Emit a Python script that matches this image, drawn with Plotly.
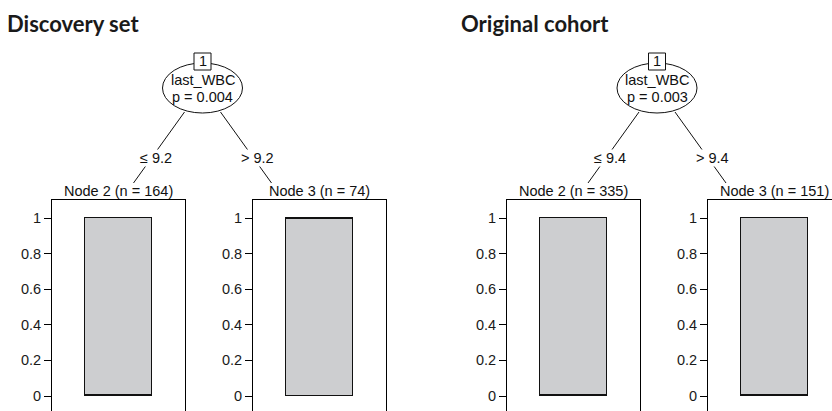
import plotly.graph_objects as go

W, H = 832, 411

# ---------------- data ----------------
panel_titles = ["Discovery set", "Original cohort"]
split_variable = "last_WBC"
p_values = ["0.004", "0.003"]
thresholds = ["9.2", "9.4"]
node2_n = [164, 335]
node3_n = [74, 151]
# class proportions per terminal node (node 2, node 3)
dark_low = [[0.006, 0.0], [0.004, 0.004]]
dark_high = [[0.0, 0.006], [0.0, 0.0]]
tick_vals = [0, 0.2, 0.4, 0.6, 0.8, 1]
tick_text = ["0", "0.2", "0.4", "0.6", "0.8", "1"]

# ---------------- layout constants (pixels) ----------------
root_x = [202.5, 657.0]
title_x = [5, 459]
box_left = [[52, 253], [507, 708]]
box_w = 133
px_per_unit = 178.0
y_one_px, y_zero_px, box_top_px = 218, 396, 200

def px(x):
    return x / W

def py(y):
    return 1 - y / H

FONT = "Liberation Sans, Arial, sans-serif"
FS = 14.5
LIGHT = "#cdced0"
DARK = "#222222"
INK = "#111111"

fig = go.Figure()
layout = dict(
    width=W, height=H, margin=dict(l=0, r=0, t=0, b=0),
    paper_bgcolor="white", plot_bgcolor="white", showlegend=False,
    barmode="stack", bargap=0,
)
shapes, annotations = [], []

ax = 0
for p in range(2):
    for k in range(2):
        ax += 1
        sfx = "" if ax == 1 else str(ax)
        left = box_left[p][k]
        right = min(left + box_w, W)
        xr = (right - left) / box_w
        layout["xaxis" + sfx] = dict(
            domain=[px(left), px(right)], range=[0, xr], anchor="y" + sfx,
            side="top", showline=True, linecolor="black", linewidth=1,
            ticks="", showticklabels=False, showgrid=False, zeroline=False,
            fixedrange=True,
        )
        lo = -(H - y_zero_px) / px_per_unit
        hi = 1 + (y_one_px - box_top_px) / px_per_unit
        layout["yaxis" + sfx] = dict(
            domain=[0, py(box_top_px)], range=[lo, hi], anchor="x" + sfx,
            showline=True, linecolor="black", linewidth=1,
            mirror=(right < W), ticks="outside", ticklen=7, tickcolor="black",
            tickvals=tick_vals, ticktext=tick_text,
            tickfont=dict(family=FONT, size=FS, color="#1a1a1a"),
            showgrid=False, zeroline=False, fixedrange=True,
        )
        lo_v = dark_low[p][k]
        hi_v = dark_high[p][k]
        mid_v = 1 - lo_v - hi_v
        for val, col in [(lo_v, DARK), (mid_v, LIGHT), (hi_v, DARK)]:
            fig.add_trace(go.Bar(
                x=[0.5], y=[val], width=[0.51], xaxis="x" + sfx, yaxis="y" + sfx,
                marker=dict(color=col, line=dict(color=INK, width=1.3)),
                hoverinfo="skip",
            ))
        n = node2_n[p] if k == 0 else node3_n[p]
        annotations.append(dict(
            x=px(left + box_w / 2), y=py(191), xref="paper", yref="paper",
            text=f"Node {k + 2} (n = {n})", showarrow=False,
            font=dict(family=FONT, size=FS, color=INK),
            xanchor="center", yanchor="middle",
        ))

    rx = root_x[p]
    # title
    annotations.append(dict(
        x=px(title_x[p]), y=py(23), xref="paper", yref="paper",
        text=f"<b>{panel_titles[p]}</b>", showarrow=False,
        font=dict(family="Lato, sans-serif", size=22, color="#1a1a1a"),
        xanchor="left", yanchor="middle",
    ))
    # edges
    for sgn in (-1, 1):
        shapes.append(dict(
            type="line", xref="paper", yref="paper",
            x0=px(rx + sgn * 18), y0=py(112), x1=px(rx + sgn * 69), y1=py(183),
            line=dict(color=INK, width=1),
        ))
    annotations.append(dict(
        x=px(rx - 47), y=py(158), xref="paper", yref="paper",
        text=f"\u2264 {thresholds[p]}", showarrow=False, bgcolor="white",
        font=dict(family=FONT, size=FS, color=INK),
        xanchor="center", yanchor="middle", borderpad=0,
    ))
    annotations.append(dict(
        x=px(rx + 55), y=py(158), xref="paper", yref="paper",
        text=f"> {thresholds[p]}", showarrow=False, bgcolor="white",
        font=dict(family=FONT, size=FS, color=INK),
        xanchor="center", yanchor="middle", borderpad=0,
    ))
    # root node ellipse
    shapes.append(dict(
        type="circle", xref="paper", yref="paper",
        x0=px(rx - 40), x1=px(rx + 40), y0=py(113), y1=py(63),
        fillcolor="white", line=dict(color=INK, width=1),
    ))
    shapes.append(dict(
        type="rect", xref="paper", yref="paper",
        x0=px(rx - 8.5), x1=px(rx + 8.5), y0=py(70), y1=py(53),
        fillcolor="white", line=dict(color=INK, width=1),
    ))
    annotations.append(dict(
        x=px(rx), y=py(61.5), xref="paper", yref="paper", text="1",
        showarrow=False, font=dict(family=FONT, size=FS, color=INK),
        xanchor="center", yanchor="middle",
    ))
    annotations.append(dict(
        x=px(rx), y=py(80), xref="paper", yref="paper", text=split_variable,
        showarrow=False, font=dict(family=FONT, size=FS, color=INK),
        xanchor="center", yanchor="middle",
    ))
    annotations.append(dict(
        x=px(rx), y=py(97), xref="paper", yref="paper", text=f"p = {p_values[p]}",
        showarrow=False, font=dict(family=FONT, size=FS, color=INK),
        xanchor="center", yanchor="middle",
    ))

layout["shapes"] = shapes
layout["annotations"] = annotations
fig.update_layout(**layout)
fig.write_html(
    "out.html",
    config={"displayModeBar": False},
    post_script="document.body.style.margin='0';document.body.style.overflow='hidden';",
)
